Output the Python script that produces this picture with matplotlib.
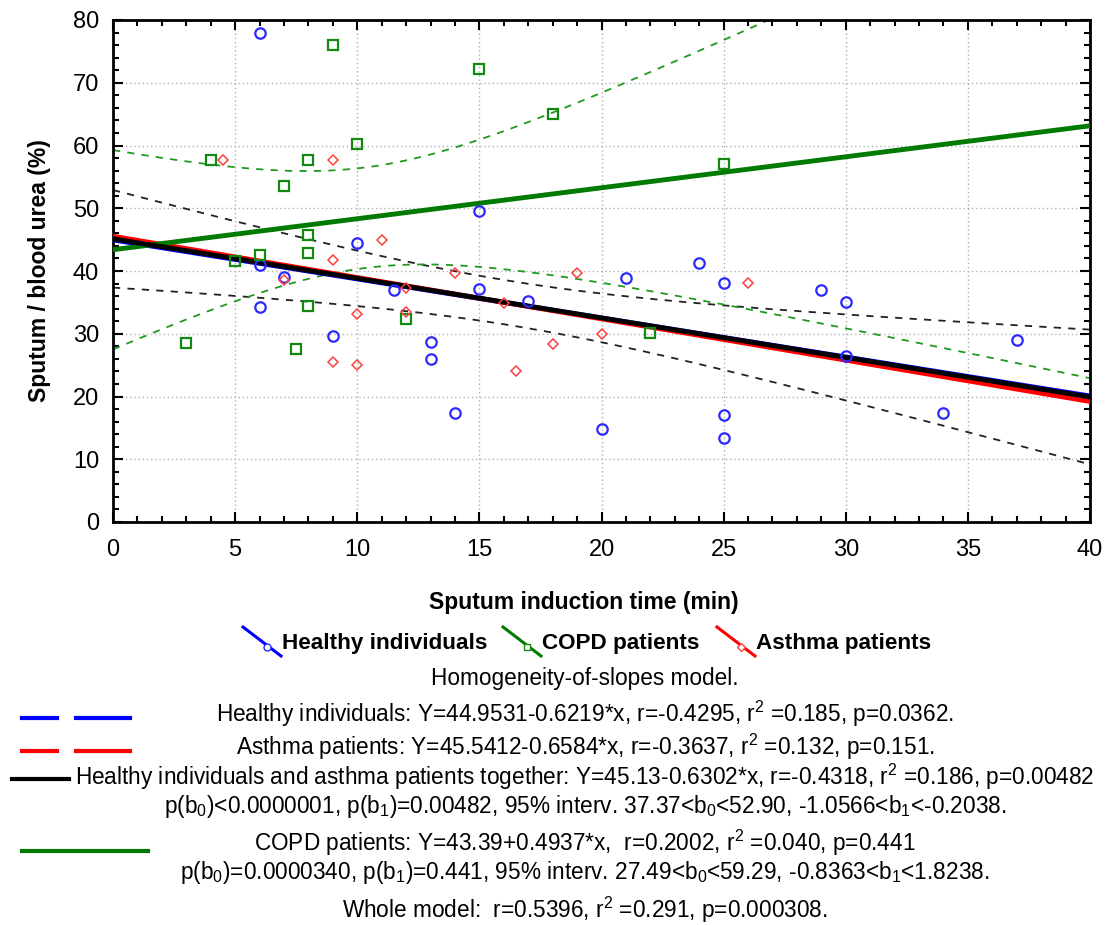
import matplotlib
matplotlib.use("Agg")
import matplotlib.pyplot as plt
import matplotlib.ticker as mtick
import numpy as np

FONT = "Liberation Sans"
plt.rcParams["font.family"] = [FONT, "DejaVu Sans"]
plt.rcParams["mathtext.fontset"] = "custom"
plt.rcParams["mathtext.rm"] = FONT
plt.rcParams["mathtext.it"] = FONT
plt.rcParams["mathtext.bf"] = FONT + ":bold"
plt.rcParams["mathtext.default"] = "rm"

# sputum induction time (min) vs sputum / blood urea (%)
healthy_time = [6, 15, 10, 6, 7, 24, 21, 25, 11.5, 15, 17, 29, 30, 6, 9, 13, 13, 30, 37, 14, 20, 25, 25, 34]
healthy_urea = [78, 49.5, 44.5, 41, 39, 41.2, 38.9, 38.1, 36.9, 37.2, 35.2, 37, 35, 34.2, 29.6, 28.7, 26,
                26.5, 29, 17.4, 14.8, 17, 13.4, 17.3]

asthma_time = [4.5, 9, 11, 9, 7, 14, 12, 16, 10, 12, 9, 10, 18, 16.5, 19, 20, 26]
asthma_urea = [57.7, 57.7, 45, 41.7, 38.5, 39.7, 37.3, 34.9, 33.1, 33.4, 25.5, 25, 28.4, 24, 39.7, 30, 38.1]

copd_time = [4, 8, 10, 9, 15, 18, 7, 8, 8, 6, 5, 8, 12, 3, 7.5, 22, 25]
copd_urea = [57.7, 57.7, 60.3, 76, 72.2, 65, 53.5, 45.8, 42.8, 42.6, 41.6, 34.5, 32.3, 28.5, 27.6, 30.1, 57]

# fitted intercept / slope from the homogeneity-of-slopes model
healthy_fit = (44.9531, -0.6219)
asthma_fit = (45.5412, -0.6584)
together_fit = (45.13, -0.6302)
copd_fit = (43.39, 0.4937)

# two-sided 95% t quantiles for n-2 degrees of freedom
T_TOGETHER = 2.0227  # df = 39
T_COPD = 2.1314      # df = 15

BLUE = "#0000ff"
RED = "#ff0000"
GREEN = "#007a00"
GREEN_DASH = "#1e9a1e"

TEXT_SIZE = 16.3


def conf_band(x, y, fit, t, grid):
    x = np.asarray(x, dtype=float)
    y = np.asarray(y, dtype=float)
    b0, b1 = fit
    n = len(x)
    resid = y - (b0 + b1 * x)
    s = np.sqrt((resid ** 2).sum() / (n - 2))
    sxx = ((x - x.mean()) ** 2).sum()
    half = t * s * np.sqrt(1.0 / n + (grid - x.mean()) ** 2 / sxx)
    center = b0 + b1 * grid
    return center - half, center + half


fig = plt.figure(figsize=(11.05, 9.25), dpi=100)
ax = fig.add_axes([113 / 1105, 1 - 522 / 925, 977 / 1105, 502 / 925])

grid = np.linspace(0, 40, 200)

# confidence bands
tog_x = healthy_time + asthma_time
tog_y = healthy_urea + asthma_urea
lo, hi = conf_band(tog_x, tog_y, together_fit, T_TOGETHER, grid)
for band in (lo, hi):
    ax.plot(grid, band, color="#222222", linewidth=1.3, linestyle=(0, (4, 4)), zorder=2)
lo, hi = conf_band(copd_time, copd_urea, copd_fit, T_COPD, grid)
for band in (lo, hi):
    ax.plot(grid, band, color=GREEN_DASH, linewidth=1.3, linestyle=(0, (4, 4)), zorder=2)

# regression lines
ends = np.array([0, 40])
ax.plot(ends, healthy_fit[0] + healthy_fit[1] * ends, color=BLUE, linewidth=3.5, zorder=3)
ax.plot(ends, asthma_fit[0] + asthma_fit[1] * ends, color=RED, linewidth=3.5, zorder=3)
ax.plot(ends, together_fit[0] + together_fit[1] * ends, color="black", linewidth=3.5, zorder=4)
ax.plot(ends, copd_fit[0] + copd_fit[1] * ends, color=GREEN, linewidth=3.5, zorder=3)

# observations
ax.plot(healthy_time, healthy_urea, linestyle="none", marker="o", markersize=7.5, markerfacecolor="none",
        markeredgecolor="#2a2aff", markeredgewidth=1.6, zorder=5)
ax.plot(copd_time, copd_urea, linestyle="none", marker="s", markersize=7, markerfacecolor="none",
        markeredgecolor="#128a12", markeredgewidth=1.6, zorder=5)
ax.plot(asthma_time, asthma_urea, linestyle="none", marker="D", markersize=5.5, markerfacecolor="none",
        markeredgecolor="#ff4040", markeredgewidth=1.1, zorder=5)

ax.set_xlim(0, 40)
ax.set_ylim(0, 80)
ax.xaxis.set_major_locator(mtick.MultipleLocator(5))
ax.xaxis.set_minor_locator(mtick.MultipleLocator(1))
ax.yaxis.set_major_locator(mtick.MultipleLocator(10))
ax.yaxis.set_minor_locator(mtick.MultipleLocator(2))
ax.tick_params(which="both", direction="in", top=True, right=True, width=1.5, labelsize=17,
               colors="black")
ax.tick_params(axis="x", which="major", pad=12)
ax.tick_params(axis="y", which="major", pad=10)
ax.tick_params(which="major", length=7)
ax.tick_params(which="minor", length=4)
ax.grid(True, which="major", color="#b0b0b0", linestyle=(0, (1, 2)), linewidth=1)
for spine in ax.spines.values():
    spine.set_linewidth(2)

ax.set_ylabel("Sputum / blood urea (%)", fontsize=16.5, fontweight="bold")
ax.yaxis.set_label_coords(-0.063, 0.5)

# everything below the plot is laid out in pixel coordinates
lay = fig.add_axes([0, 0, 1, 1])
lay.set_xlim(0, 1105)
lay.set_ylim(925, 0)
lay.axis("off")
lay.patch.set_visible(False)

lay.text(584, 602, "Sputum induction time (min)", ha="center", va="center", fontsize=16.5,
         fontweight="bold")

legend_items = [
    (243, "Healthy individuals", BLUE, "o", "#2a2aff"),
    (503, "COPD patients", GREEN, "s", "#128a12"),
    (717, "Asthma patients", RED, "D", "#ff4040"),
]
for x0, label, color, marker, mcolor in legend_items:
    lay.plot([x0, x0 + 38], [627, 656], color=color, linewidth=2.2)
    lay.plot([x0 + 24], [647], marker=marker, markersize=5 if marker != "D" else 4,
             markerfacecolor="white", markeredgecolor=mcolor, markeredgewidth=1)
    lay.text(x0 + 39, 643, label, ha="left", va="center", fontsize=16.2, fontweight="bold")

lines = [
    (678, "Homogeneity-of-slopes model."),
    (714, "Healthy individuals: Y=44.9531-0.6219*x, r=-0.4295, r$^2$ =0.185, p=0.0362."),
    (747, "Asthma patients: Y=45.5412-0.6584*x, r=-0.3637, r$^2$ =0.132, p=0.151."),
    (777, "Healthy individuals and asthma patients together: Y=45.13-0.6302*x, r=-0.4318, "
          "r$^2$ =0.186, p=0.00482"),
    (807, "p(b$_0$)<0.0000001, p(b$_1$)=0.00482, 95% interv. 37.37<b$_0$<52.90, -1.0566<b$_1$<-0.2038."),
    (843, "COPD patients: Y=43.39+0.4937*x,  r=0.2002, r$^2$ =0.040, p=0.441"),
    (872, "p(b$_0$)=0.0000340, p(b$_1$)=0.441, 95% interv. 27.49<b$_0$<59.29, -0.8363<b$_1$<1.8238."),
    (910, "Whole model:  r=0.5396, r$^2$ =0.291, p=0.000308."),
]
for y, s in lines:
    lay.text(585, y, s, ha="center", va="center", fontsize=TEXT_SIZE)

# line keys on the left
lay.plot([22, 57], [718, 718], color=BLUE, linewidth=3)
lay.plot([76, 130], [718, 718], color=BLUE, linewidth=3)
lay.plot([22, 57], [751, 751], color=RED, linewidth=3)
lay.plot([76, 130], [751, 751], color=RED, linewidth=3)
lay.plot([12, 69], [779, 779], color="black", linewidth=3)
lay.plot([22, 148], [851, 851], color=GREEN, linewidth=3)

fig.savefig("out.png", dpi=100)
